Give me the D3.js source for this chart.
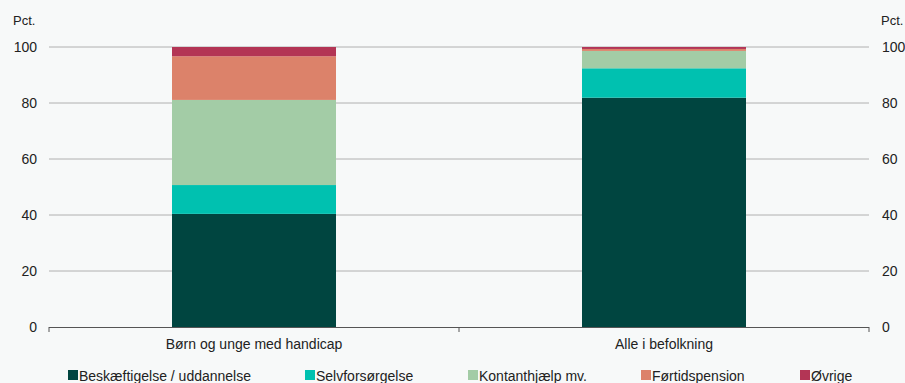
<!DOCTYPE html>
<html><head><meta charset="utf-8">
<script src="https://cdn.jsdelivr.net/npm/d3@7"></script>
<style>
body{margin:0;background:#f7f9f9;}
svg{display:block;font-family:"Liberation Sans",Arial,sans-serif;}
</style></head>
<body><svg id="c" width="905" height="383"></svg>
<script>
const categories = ["Børn og unge med handicap", "Alle i befolkning"];
const seriesNames = ["Beskæftigelse / uddannelse", "Selvforsørgelse", "Kontanthjælp mv.", "Førtidspension", "Øvrige"];
const beskaeftigelse = [40.4, 81.9];
const selvforsorgelse = [10.3, 10.5];
const kontanthjaelp = [30.4, 6.2];
const fortidspension = [15.6, 0.7];
const ovrige = [3.3, 0.7];
const yTicks = [0, 20, 40, 60, 80, 100];
const colors = ["#004540", "#00c1b0", "#a3cca6", "#dc826a", "#b33555"];

const seriesValues = [beskaeftigelse, selvforsorgelse, kontanthjaelp, fortidspension, ovrige];
const rows = categories.map((c, i) => {
  const r = {cat: c};
  seriesNames.forEach((s, j) => r[s] = seriesValues[j][i]);
  return r;
});
const stack = d3.stack().keys(seriesNames)(rows);

const svg = d3.select("#c");
const L = 49, R = 869, T = 47, B = 327;
const x = d3.scaleBand().domain(categories).range([L, R]).padding(0);
const y = d3.scaleLinear().domain([0, 100]).range([B, T]);
const barW = x.bandwidth() * 0.4;

// gridlines
svg.append("g").selectAll("line").data(yTicks.filter(t => t > 0)).join("line")
  .attr("x1", L).attr("x2", R).attr("y1", d => y(d)).attr("y2", d => y(d))
  .attr("stroke", "#b0b0b0").attr("stroke-width", 1);

// bars
svg.append("g").selectAll("g").data(stack).join("g")
  .attr("fill", (d, i) => colors[i])
  .selectAll("rect").data(d => d).join("rect")
  .attr("x", d => x(d.data.cat) + (x.bandwidth() - barW) / 2)
  .attr("width", barW)
  .attr("y", d => y(d[1]))
  .attr("height", d => y(d[0]) - y(d[1]));

// zero axis
svg.append("line").attr("x1", L).attr("x2", R).attr("y1", B + 0.5).attr("y2", B + 0.5)
  .attr("stroke", "#555").attr("stroke-width", 1);
const bounds = [L, ...categories.map(c => x(c) + x.bandwidth())];
svg.append("g").selectAll("line").data(bounds).join("line")
  .attr("x1", d => d).attr("x2", d => d).attr("y1", B).attr("y2", B + 5)
  .attr("stroke", "#555");

// y labels
const lab = svg.append("g").attr("font-size", 14).attr("fill", "#222");
lab.selectAll(".yl").data(yTicks).join("text")
  .attr("x", 37).attr("y", d => y(d)).attr("dy", "0.35em").attr("text-anchor", "end").text(d => d);
lab.selectAll(".yr").data(yTicks).join("text")
  .attr("x", 882).attr("y", d => y(d)).attr("dy", "0.35em").attr("text-anchor", "start").text(d => d);
lab.append("text").attr("x", 13).attr("y", 25).attr("font-size", 13).text("Pct.");
lab.append("text").attr("x", 881).attr("y", 25).attr("font-size", 13).text("Pct.");

// category labels
lab.selectAll(".cl").data(categories).join("text")
  .attr("x", d => x(d) + x.bandwidth() / 2).attr("y", 349).attr("text-anchor", "middle").text(d => d);

// legend
const legX = [68, 305, 468, 641, 800];
const lg = svg.append("g").selectAll("g").data(seriesNames).join("g")
  .attr("transform", (d, i) => `translate(${legX[i]},370)`);
lg.append("rect").attr("x", 0).attr("y", 0).attr("width", 10).attr("height", 10).attr("fill", (d, i) => colors[i]);
lg.append("text").attr("x", 11).attr("y", 10.5).attr("font-size", 14).attr("fill", "#222").text(d => d);
</script></body></html>
